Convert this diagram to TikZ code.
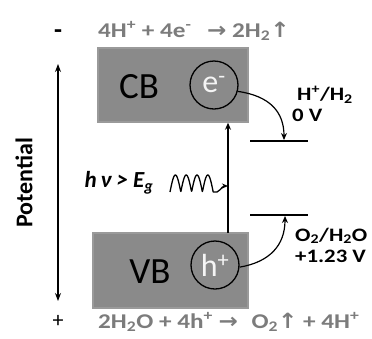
\documentclass[tikz,border=0pt]{standalone}
\usepackage{fontspec}
\setmainfont{Carlito}
\newfontfamily\widefont[FakeStretch=1.2]{Carlito}
\newfontfamily\symfont[FakeStretch=1.1]{DejaVu Sans}
\usetikzlibrary{arrows.meta, positioning, calc}
\definecolor{bandgray}{HTML}{8A8A8A}
\definecolor{bandedge}{HTML}{9A9A9A}
\definecolor{textgray}{HTML}{7C7C7C}
\newcommand{\up}{{\symfont\char"2191}}
\newcommand{\rarr}{{\symfont\char"2192}}

\begin{document}
\begin{tikzpicture}[x=1pt,y=-1pt,
  band/.style={draw=bandedge, fill=bandgray, line width=1.5pt, inner sep=0pt},
  bandname/.style={font=\fontsize{37}{37}\selectfont},
  carrier/.style={circle, draw=black, line width=1.3pt, minimum size=48pt, inner sep=0pt,
    text=white!92!gray, font=\fontsize{32}{32}\selectfont},
  eqn/.style={text=textgray, font=\widefont\bfseries\fontsize{21}{21}\selectfont, inner sep=0pt},
  redox/.style={font=\widefont\bfseries\fontsize{19}{21}\selectfont, align=left, inner sep=0pt},
  level/.style={line width=1.2pt},
  curved/.style={-{Stealth[length=7pt,width=6pt]}, line width=1.2pt}]

\useasboundingbox (0,0) rectangle (372,338);

% Bands
\node[band, minimum width=150pt, minimum height=74pt] (cb) at (173,85) {};
\node[band, minimum width=155pt, minimum height=75pt] (vb) at (170.5,270.5) {};
\node[bandname] (cbname) at (139,87) {CB};
\node[bandname] (vbname) at (150,272) {VB};

% Carriers
\node[carrier] (ecirc) at (214,85) {e\textsuperscript{-}};
\node[carrier] (hcirc) at (215,265) {h\textsuperscript{+}};

% Potential axis
\node[font=\bfseries\fontsize{26}{26}\selectfont] (minus) at (58,34) {-};
\node[font=\fontsize{22}{22}\selectfont] (plus) at (58,321) {+};
\coordinate (ptop) at (58,64);
\coordinate (pbot) at (58,301);
\draw[{Stealth[length=8pt,width=6pt]}-{Stealth[length=8pt,width=6pt]}, line width=1.2pt] (ptop) -- (pbot);
\node[rotate=90, font=\bfseries\fontsize{24}{24}\selectfont] (potential) at (24,183) {Potential};

% Half reactions
\node[eqn, anchor=west] (eqtop) at (98,31)
  {4H\textsuperscript{+} + 4e\textsuperscript{-}\hspace{10pt} \rarr\ 2H\textsubscript{2}\up};
\node[eqn, anchor=west] (eqbot) at (98,322)
  {2H\textsubscript{2}O + 4h\textsuperscript{+} \rarr\hspace{8pt} O\textsubscript{2}\up\ + 4H\textsuperscript{+}};

% Redox levels
\coordinate (hlevW) at (250,141);
\coordinate (hlevE) at (308,141);
\coordinate (olevW) at (250,215);
\coordinate (olevE) at (308,215);
\draw[level] (hlevW) -- (hlevE);
\draw[level] (olevW) -- (olevE);
\coordinate (htarget) at (284,140);
\coordinate (otarget) at (285,216);
\node[redox, anchor=west] (hlabel) at (292,104) {\hspace*{5pt}H\textsuperscript{+}/H\textsubscript{2}\\0 V};
\node[redox, anchor=west] (olabel) at (295,245) {O\textsubscript{2}/H\textsubscript{2}O\\+1.23 V};

\draw[curved] (ecirc.-15) .. controls (270,96) and (284,112) .. (htarget);
\draw[curved] (hcirc.-5) .. controls (270,262) and (285,245) .. (otarget);

% Excitation
\coordinate (exc) at (228,233);
\draw[-{Stealth[length=7pt,width=6pt]}, line width=1.2pt] (exc) -- (exc |- cb.south);
\node[font=\bfseries\itshape\fontsize{23}{23}\selectfont] (photon) at (119,183) {h\,ν > E\textsubscript{g}};
\coordinate (wavestart) at (170,192);
\draw[-{Stealth[length=6pt,width=5pt]}, line width=1.3pt, line join=round]
  plot[domain=0:43.2, samples=120] ({170+\x}, {192-17*abs(sin(\x*180/10.8))})
  to[out=-20, in=180] ($(wavestart -| exc)+(0,-6)$);

\end{tikzpicture}
\end{document}
